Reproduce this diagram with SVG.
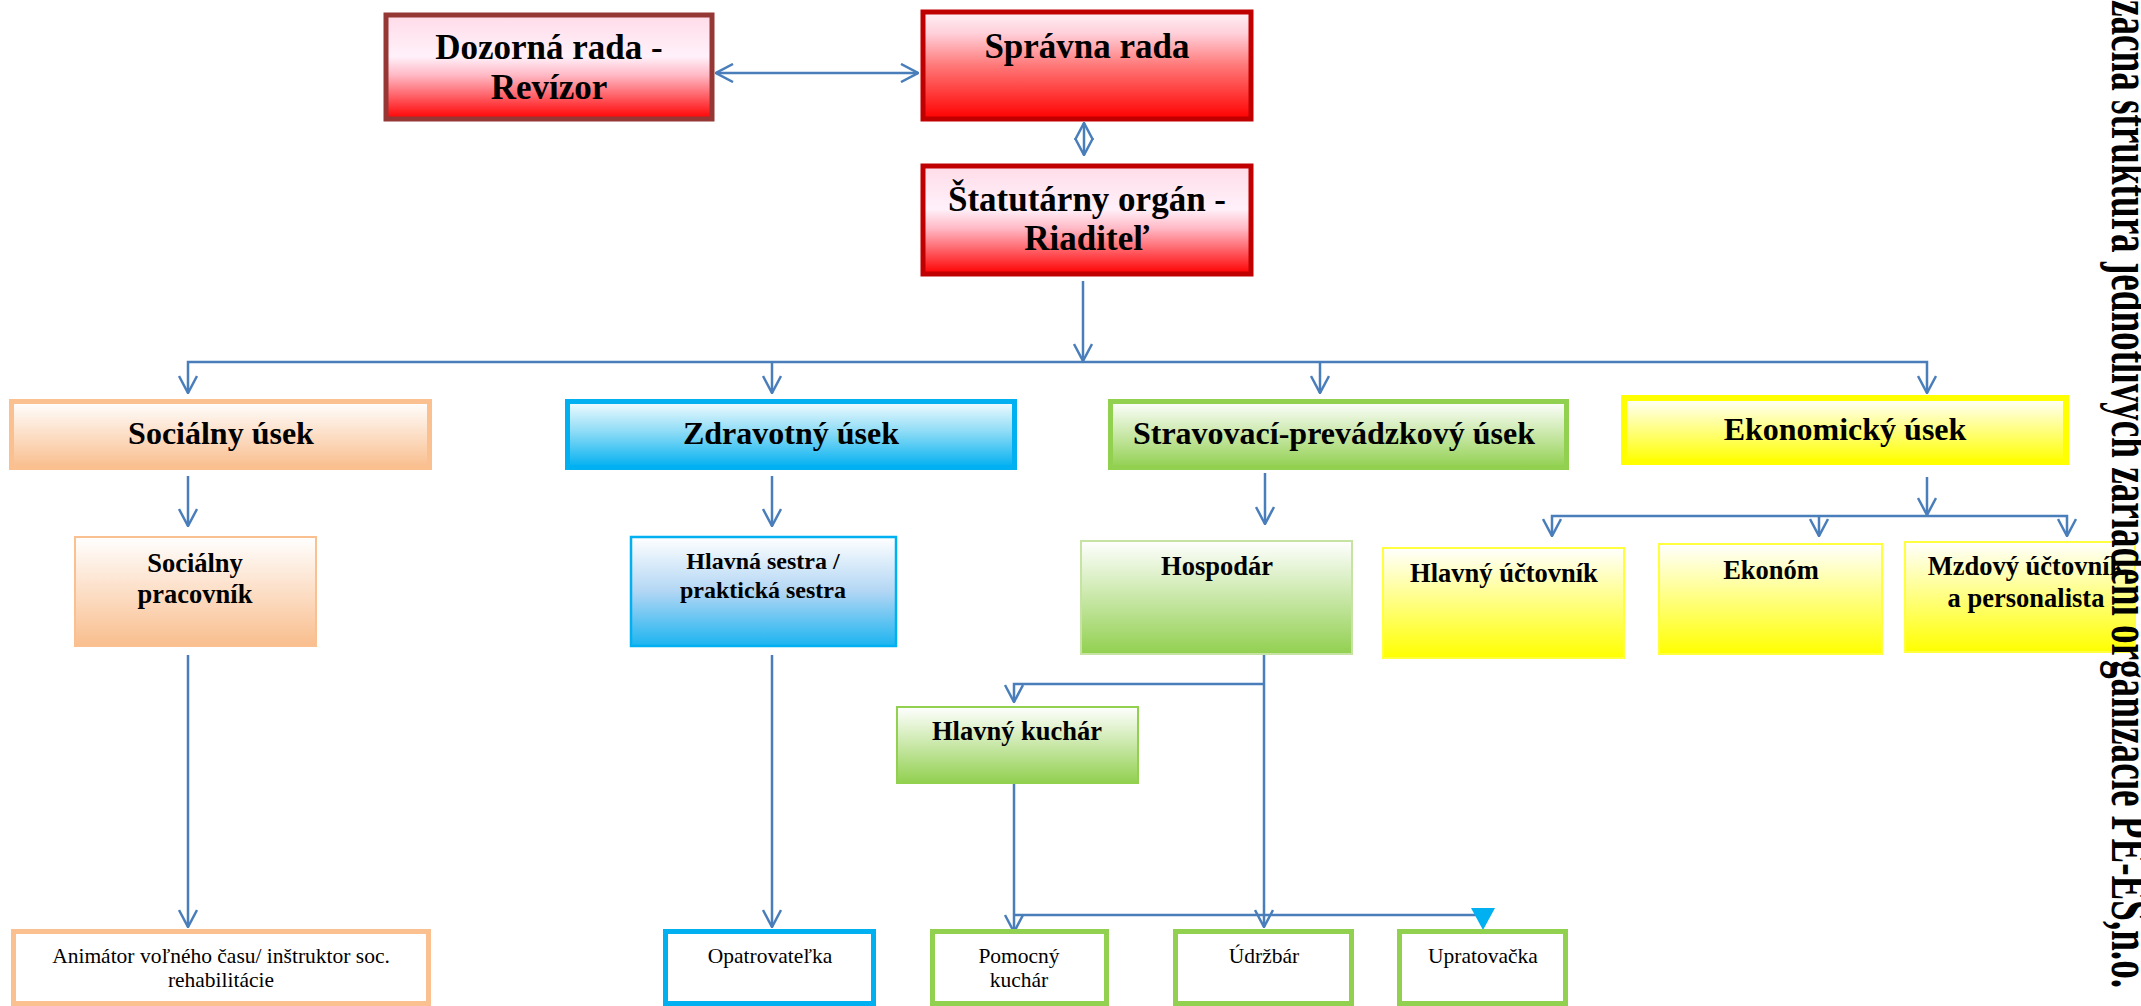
<svg xmlns="http://www.w3.org/2000/svg" width="2141" height="1006" viewBox="0 0 2141 1006">
<style>
.hb{font-family:"Liberation Serif","Times New Roman",serif;font-weight:bold;fill:#000;text-anchor:middle}
.t35{font-size:35px}
.t32{font-size:32px}
.t26{font-size:26.5px}
.t24{font-size:24px}
.tr{font-family:"Liberation Serif","Times New Roman",serif;font-size:21.5px;fill:#000;text-anchor:middle}
.con{fill:none;stroke:#4a7ebb;stroke-width:2.5}
</style>
<defs>
<linearGradient id="gRedA" x1="0" y1="0" x2="0" y2="1">
<stop offset="0" stop-color="#ffdce8"/><stop offset="0.4" stop-color="#fff1fa"/><stop offset="0.58" stop-color="#ffb8c4"/><stop offset="1" stop-color="#ff0000"/>
</linearGradient>
<linearGradient id="gRedB" x1="0" y1="0" x2="0" y2="1">
<stop offset="0" stop-color="#fff0f6"/><stop offset="0.2" stop-color="#ffd0da"/><stop offset="0.5" stop-color="#ff7878"/><stop offset="1" stop-color="#ff0000"/>
</linearGradient>
<linearGradient id="gOr" x1="0" y1="0" x2="0" y2="1">
<stop offset="0" stop-color="#ffffff"/><stop offset="1" stop-color="#f9be8e"/>
</linearGradient>
<linearGradient id="gBl" x1="0" y1="0" x2="0" y2="1">
<stop offset="0" stop-color="#f2fcff"/><stop offset="0.45" stop-color="#8fdcf6"/><stop offset="1" stop-color="#00b0f0"/>
</linearGradient>
<linearGradient id="gBl2" x1="0" y1="0" x2="0" y2="1">
<stop offset="0" stop-color="#ffffff"/><stop offset="0.5" stop-color="#b2d6f4"/><stop offset="1" stop-color="#1cb4f0"/>
</linearGradient>
<linearGradient id="gGr" x1="0" y1="0" x2="0" y2="1">
<stop offset="0" stop-color="#ffffff"/><stop offset="1" stop-color="#92d050"/>
</linearGradient>
<linearGradient id="gYe" x1="0" y1="0" x2="0" y2="1">
<stop offset="0" stop-color="#ffffff"/><stop offset="1" stop-color="#ffff00"/>
</linearGradient>
<marker id="ah" viewBox="0 0 20 20" refX="19" refY="10" markerWidth="20" markerHeight="20" markerUnits="userSpaceOnUse" orient="auto-start-reverse">
<path d="M2,1 L19,10 L2,19" fill="none" stroke="#4a7ebb" stroke-width="2.5"/>
</marker>
</defs>

<g id="connectors">
<line class="con" x1="716" y1="73" x2="918" y2="73" marker-start="url(#ah)" marker-end="url(#ah)"/>
<line class="con" x1="1084" y1="123" x2="1084" y2="155" marker-start="url(#ah)" marker-end="url(#ah)"/>
<line class="con" x1="1083" y1="281" x2="1083" y2="361" marker-end="url(#ah)"/>
<polyline class="con" points="188,393 188,362 1927,362 1927,393" marker-start="url(#ah)" marker-end="url(#ah)"/>
<line class="con" x1="772" y1="362" x2="772" y2="393" marker-end="url(#ah)"/>
<line class="con" x1="1320" y1="362" x2="1320" y2="393" marker-end="url(#ah)"/>
<line class="con" x1="188" y1="476" x2="188" y2="526" marker-end="url(#ah)"/>
<line class="con" x1="772" y1="476" x2="772" y2="526" marker-end="url(#ah)"/>
<line class="con" x1="1265" y1="473" x2="1265" y2="524" marker-end="url(#ah)"/>
<line class="con" x1="1927" y1="477" x2="1927" y2="515" marker-end="url(#ah)"/>
<polyline class="con" points="1552,536 1552,516 2067,516 2067,536" marker-start="url(#ah)" marker-end="url(#ah)"/>
<line class="con" x1="1819" y1="516" x2="1819" y2="536" marker-end="url(#ah)"/>
<line class="con" x1="188" y1="655" x2="188" y2="927" marker-end="url(#ah)"/>
<line class="con" x1="772" y1="655" x2="772" y2="927" marker-end="url(#ah)"/>
<line class="con" x1="1264" y1="655" x2="1264" y2="927" marker-end="url(#ah)"/>
<polyline class="con" points="1264,684 1014,684 1014,702" marker-end="url(#ah)"/>
<line class="con" x1="1014" y1="784" x2="1014" y2="932" marker-end="url(#ah)"/>
<line class="con" x1="1014" y1="915" x2="1483" y2="915"/>
<polygon points="1471,908 1495,908 1483,930" fill="#00b0f0"/>
</g>

<g id="n-dozorna">
<rect x="386" y="15" width="326" height="104" fill="url(#gRedA)" stroke="#953735" stroke-width="5"/>
<text class="hb t35" x="549" y="59">Dozorná rada -</text>
<text class="hb t35" x="549" y="99">Revízor</text>
</g>
<g id="n-spravna">
<rect x="923" y="12" width="328" height="107" fill="url(#gRedB)" stroke="#c00000" stroke-width="5"/>
<text class="hb t35" x="1087" y="58">Správna rada</text>
</g>
<g id="n-statutarny">
<rect x="923" y="166" width="328" height="108" fill="url(#gRedA)" stroke="#c00000" stroke-width="5"/>
<text class="hb t35" x="1087" y="211">Štatutárny orgán -</text>
<text class="hb t35" x="1087" y="250">Riaditeľ</text>
</g>

<g id="n-socialny-usek">
<rect x="11.5" y="401.5" width="418" height="66" fill="url(#gOr)" stroke="#fac090" stroke-width="5"/>
<text class="hb t32" x="221" y="444">Sociálny úsek</text>
</g>
<g id="n-zdravotny-usek">
<rect x="567.5" y="401.5" width="447" height="66" fill="url(#gBl)" stroke="#00b0f0" stroke-width="5"/>
<text class="hb t32" x="791" y="444">Zdravotný úsek</text>
</g>
<g id="n-stravovaci-usek">
<rect x="1110.5" y="401.5" width="456" height="66" fill="url(#gGr)" stroke="#92d050" stroke-width="5"/>
<text class="hb t32" x="1334" y="444">Stravovací-prevádzkový úsek</text>
</g>
<g id="n-ekonomicky-usek">
<rect x="1624" y="398" width="442" height="64" fill="url(#gYe)" stroke="#ffff00" stroke-width="6"/>
<text class="hb t32" x="1845" y="440">Ekonomický úsek</text>
</g>

<g id="n-socialny-pracovnik">
<rect x="75" y="537" width="241" height="109" fill="url(#gOr)" stroke="#fac090" stroke-width="2"/>
<text class="hb t26" x="195" y="572">Sociálny</text>
<text class="hb t26" x="195" y="603">pracovník</text>
</g>
<g id="n-hlavna-sestra">
<rect x="631" y="537" width="265" height="109" fill="url(#gBl2)" stroke="#00b0f0" stroke-width="2.5"/>
<text class="hb t24" x="763" y="569">Hlavná sestra /</text>
<text class="hb t24" x="763" y="598">praktická sestra</text>
</g>
<g id="n-hospodar">
<rect x="1081" y="541" width="271" height="113" fill="url(#gGr)" stroke="#c6e3a4" stroke-width="2"/>
<text class="hb t26" x="1217" y="575">Hospodár</text>
</g>
<g id="n-hlavny-uctovnik">
<rect x="1383" y="548" width="241" height="110" fill="url(#gYe)" stroke="#ffff40" stroke-width="2"/>
<text class="hb t26" x="1504" y="582">Hlavný účtovník</text>
</g>
<g id="n-ekonom">
<rect x="1659" y="544" width="223" height="110" fill="url(#gYe)" stroke="#ffff40" stroke-width="2"/>
<text class="hb t26" x="1771" y="579">Ekonóm</text>
</g>
<g id="n-mzdovy">
<rect x="1905" y="542" width="230" height="110" fill="url(#gYe)" stroke="#ffff40" stroke-width="2"/>
<text class="hb t26" x="2026" y="575">Mzdový účtovník</text>
<text class="hb t26" x="2026" y="607">a personalista</text>
</g>
<g id="n-hlavny-kuchar">
<rect x="897" y="707" width="241" height="76" fill="url(#gGr)" stroke="#92d050" stroke-width="2"/>
<text class="hb t26" x="1017" y="740">Hlavný kuchár</text>
</g>

<g id="n-animator">
<rect x="13.5" y="931.5" width="415" height="72" fill="#fff" stroke="#fac090" stroke-width="5"/>
<text class="tr" x="221" y="963">Animátor voľného času/ inštruktor soc.</text>
<text class="tr" x="221" y="987">rehabilitácie</text>
</g>
<g id="n-opatrovatelka">
<rect x="665.5" y="931.5" width="208" height="72" fill="#fff" stroke="#00b0f0" stroke-width="5"/>
<text class="tr" x="770" y="963">Opatrovateľka</text>
</g>
<g id="n-pomocny">
<rect x="932.5" y="931.5" width="174" height="72" fill="#fff" stroke="#92d050" stroke-width="5"/>
<text class="tr" x="1019" y="963">Pomocný</text>
<text class="tr" x="1019" y="987">kuchár</text>
</g>
<g id="n-udrzbar">
<rect x="1175.5" y="931.5" width="176" height="72" fill="#fff" stroke="#92d050" stroke-width="5"/>
<text class="tr" x="1264" y="963">Údržbár</text>
</g>
<g id="n-upratovacka">
<rect x="1399.5" y="931.5" width="166" height="72" fill="#fff" stroke="#92d050" stroke-width="5"/>
<text class="tr" x="1483" y="963">Upratovačka</text>
</g>

<text transform="translate(2112,988) rotate(90)" font-family="Liberation Serif, Times New Roman, serif" font-weight="bold" font-size="56" text-anchor="end" textLength="988" lengthAdjust="spacingAndGlyphs">začná štruktúra jednotlivých zariadení organizácie PE-ES,n.o.</text>
</svg>
